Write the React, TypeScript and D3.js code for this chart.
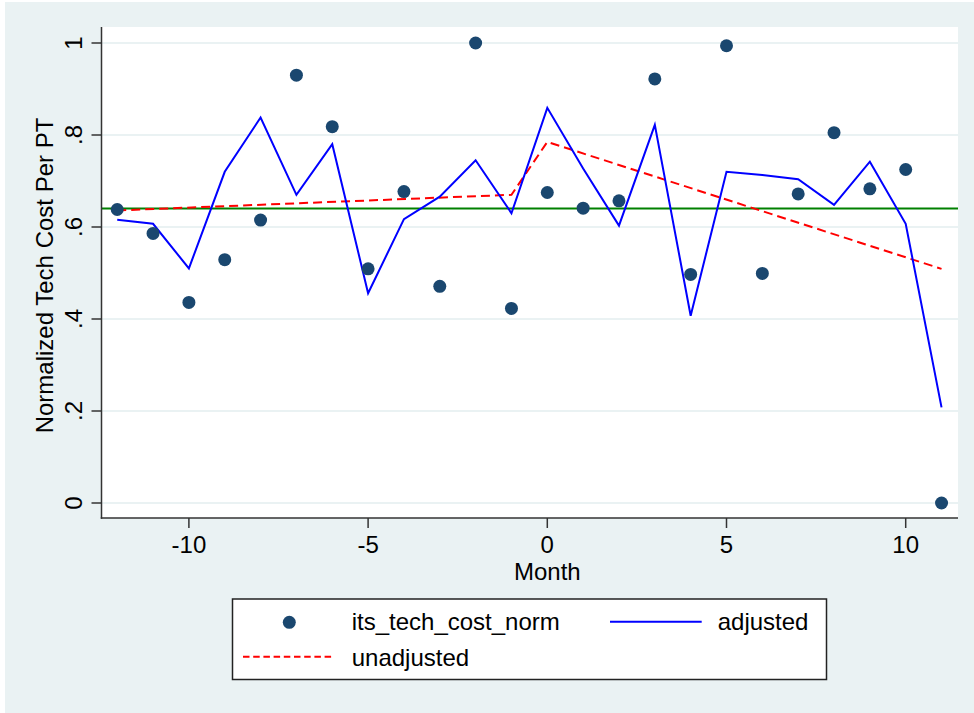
import React from "react";
import * as d3 from "d3";

const months = [-12, -11, -10, -9, -8, -7, -6, -5, -4, -3, -2, -1, 0, 1, 2, 3, 4, 5, 6, 7, 8, 9, 10, 11];
const observed = [0.638, 0.586, 0.436, 0.529, 0.615, 0.930, 0.818, 0.509, 0.677, 0.471, 1.0, 0.423, 0.675, 0.641, 0.657, 0.922, 0.497, 0.994, 0.499, 0.672, 0.805, 0.683, 0.725, 0.0];
const adjusted = [0.616, 0.607, 0.510, 0.720, 0.838, 0.670, 0.780, 0.456, 0.617, 0.666, 0.745, 0.630, 0.859, 0.727, 0.603, 0.822, 0.407, 0.720, 0.713, 0.704, 0.648, 0.742, 0.607, 0.208];
const unadjMonths = [-12, -1, 0, 11];
const unadjusted = [0.636, 0.670, 0.785, 0.509];
const meanLine = 0.64;
const xTicks = [-10, -5, 0, 5, 10];
const yTicks = [0, 0.2, 0.4, 0.6, 0.8, 1];
const yTickLabels = ["0", ".2", ".4", ".6", ".8", "1"];
const legendLabels = ["its_tech_cost_norm", "adjusted", "unadjusted"];

const BG = "#eaf2f3";
const NAVY = "#1a476f";
const FONT = "'Liberation Sans', Arial, Helvetica, sans-serif";

export default function App() {
  const plotL = 101.5, plotR = 958, plotT = 27, plotB = 518;
  const x = d3.scaleLinear().domain([0, 10]).range([547.3, 905.7]);
  const y = d3.scaleLinear().domain([0, 1]).range([503, 43]);

  const line = d3.line<[number, number]>().x(d => x(d[0])).y(d => y(d[1]));
  const adjPath = line(months.map((m, i) => [m, adjusted[i]] as [number, number])) || "";
  const unadjPath = line(unadjMonths.map((m, i) => [m, unadjusted[i]] as [number, number])) || "";

  return (
    <svg width={974} height={713} style={{ position: "absolute", left: 0, top: 0 }} fontFamily={FONT}>
      <rect x={0} y={0} width={974} height={713} fill="#ffffff" />
      <rect x={5} y={2} width={969} height={711} fill={BG} />
      <rect x={plotL} y={plotT} width={plotR - plotL} height={plotB - plotT} fill="#ffffff" />
      {yTicks.map(t => (
        <line key={"g" + t} x1={plotL} x2={plotR} y1={y(t)} y2={y(t)} stroke={BG} strokeWidth={2} />
      ))}
      <line x1={plotL} x2={plotR} y1={y(meanLine)} y2={y(meanLine)} stroke="#008000" strokeWidth={2} />
      <path d={unadjPath} fill="none" stroke="#ff0000" strokeWidth={2} strokeDasharray="9,5" />
      <path d={adjPath} fill="none" stroke="#0000ff" strokeWidth={2} strokeLinejoin="miter" />
      {months.map((m, i) => (
        <circle key={"p" + m} cx={x(m)} cy={y(observed[i])} r={6.5} fill={NAVY} />
      ))}
      {/* axes */}
      <line x1={plotL} x2={plotL} y1={plotT} y2={plotB + 0.75} stroke="#333333" strokeWidth={1.5} />
      <line x1={plotL - 0.75} x2={plotR} y1={plotB} y2={plotB} stroke="#333333" strokeWidth={1.5} />
      {yTicks.map((t, i) => (
        <g key={"yt" + t}>
          <line x1={plotL - 10} x2={plotL} y1={y(t)} y2={y(t)} stroke="#333333" strokeWidth={1.5} />
          <text transform={`translate(82,${y(t)}) rotate(-90)`} textAnchor="middle" fontSize={24} fill="#000">
            {yTickLabels[i]}
          </text>
        </g>
      ))}
      {xTicks.map(t => (
        <g key={"xt" + t}>
          <line x1={x(t)} x2={x(t)} y1={plotB} y2={plotB + 10} stroke="#333333" strokeWidth={1.5} />
          <text x={x(t)} y={553} textAnchor="middle" fontSize={24} fill="#000">
            {t}
          </text>
        </g>
      ))}
      <text x={x(0)} y={580} textAnchor="middle" fontSize={24} fill="#000">Month</text>
      <text transform={`translate(53,${(plotT + plotB) / 2 + 3}) rotate(-90)`} textAnchor="middle" fontSize={24} fill="#000">
        Normalized Tech Cost Per PT
      </text>
      {/* legend */}
      <rect x={232.5} y={599} width={594} height={80.5} fill="#ffffff" stroke="#222222" strokeWidth={1.5} />
      <circle cx={289.3} cy={622.3} r={6.5} fill={NAVY} />
      <text x={351.7} y={630} fontSize={24} fill="#000">{legendLabels[0]}</text>
      <line x1={610} x2={701.7} y1={621.7} y2={621.7} stroke="#0000ff" strokeWidth={2} />
      <text x={717.7} y={630} fontSize={24} fill="#000">{legendLabels[1]}</text>
      <line x1={243} x2={334.5} y1={656.7} y2={656.7} stroke="#ff0000" strokeWidth={2} strokeDasharray="6.5,3.7" />
      <text x={351.7} y={666} fontSize={24} fill="#000">{legendLabels[2]}</text>
    </svg>
  );
}
